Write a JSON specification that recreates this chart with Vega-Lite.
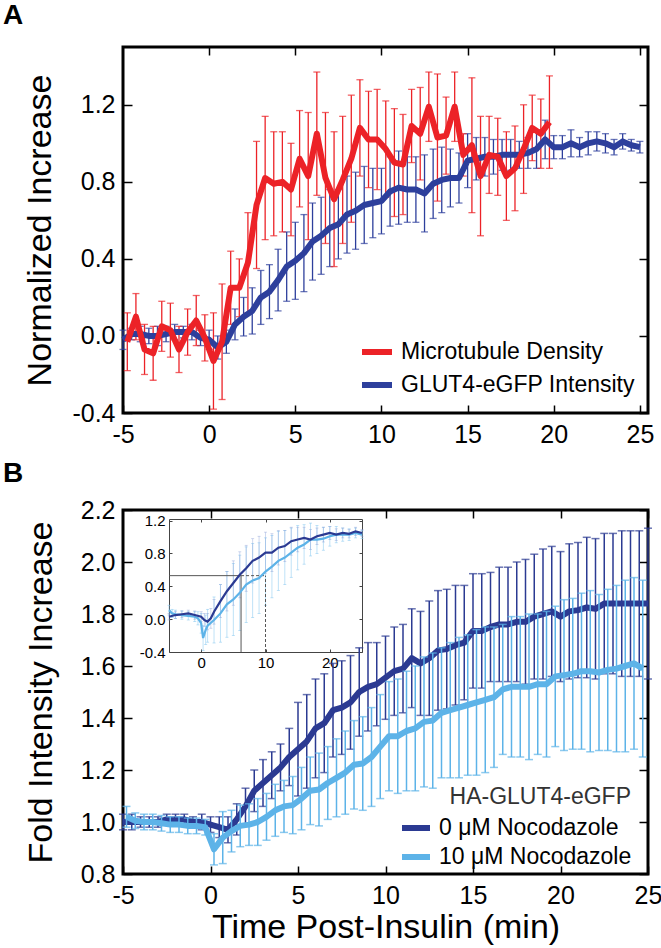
{
  "$schema": "https://vega.github.io/schema/vega-lite/v6.json",
  "background": "white",
  "padding": {"left": 1, "top": 0, "right": 0, "bottom": 0},
  "spacing": 9,
  "resolve": {"scale": {"color": "independent"}, "legend": {"color": "independent"}},
  "config": {
    "font": "Liberation Sans",
    "view": {"stroke": "black", "strokeWidth": 3},
    "axis": {"grid": false, "domain": false, "labelFont": "Liberation Sans", "labelFontSize": 25, "labelColor": "black", "tickColor": "black", "tickWidth": 1.5, "titleFont": "Liberation Sans", "titleFontSize": 34, "titleFontWeight": "normal", "titleColor": "black", "labelFlush": false, "labelOverlap": false, "labelBound": false},
    "legend": {"labelFont": "Liberation Sans", "labelFontSize": 23, "labelColor": "black", "labelLimit": 400, "titleLimit": 400, "symbolType": "stroke", "symbolStrokeWidth": 6, "symbolSize": 900, "labelOffset": 6, "titleFont": "Liberation Sans", "titleFontSize": 23, "titleFontWeight": "normal", "titleColor": "#333333"},
    "title": {"font": "Liberation Sans", "fontSize": 28, "fontWeight": "bold", "anchor": "start", "frame": "group", "color": "black", "baseline": "alphabetic"}
  },
  "datasets": {
    "a": [
      {"s":"GLUT4-eGFP Intensity","t":-5,"v":-0.02,"e":0.05},
      {"s":"GLUT4-eGFP Intensity","t":-4.5,"v":0.01,"e":0.03},
      {"s":"GLUT4-eGFP Intensity","t":-4,"v":0.01,"e":0.04},
      {"s":"GLUT4-eGFP Intensity","t":-3.5,"v":0.0,"e":0.04},
      {"s":"GLUT4-eGFP Intensity","t":-3,"v":0.0,"e":0.05},
      {"s":"GLUT4-eGFP Intensity","t":-2.5,"v":0.01,"e":0.04},
      {"s":"GLUT4-eGFP Intensity","t":-2,"v":0.02,"e":0.04},
      {"s":"GLUT4-eGFP Intensity","t":-1.5,"v":0.02,"e":0.03},
      {"s":"GLUT4-eGFP Intensity","t":-1,"v":0.02,"e":0.04},
      {"s":"GLUT4-eGFP Intensity","t":-0.5,"v":-0.01,"e":0.04},
      {"s":"GLUT4-eGFP Intensity","t":0,"v":-0.02,"e":0.05},
      {"s":"GLUT4-eGFP Intensity","t":0.5,"v":-0.06,"e":0.06},
      {"s":"GLUT4-eGFP Intensity","t":1,"v":-0.03,"e":0.06},
      {"s":"GLUT4-eGFP Intensity","t":1.5,"v":0.06,"e":0.08},
      {"s":"GLUT4-eGFP Intensity","t":2,"v":0.1,"e":0.1},
      {"s":"GLUT4-eGFP Intensity","t":2.5,"v":0.13,"e":0.12},
      {"s":"GLUT4-eGFP Intensity","t":3,"v":0.2,"e":0.14},
      {"s":"GLUT4-eGFP Intensity","t":3.5,"v":0.23,"e":0.14},
      {"s":"GLUT4-eGFP Intensity","t":4,"v":0.29,"e":0.16},
      {"s":"GLUT4-eGFP Intensity","t":4.5,"v":0.36,"e":0.18},
      {"s":"GLUT4-eGFP Intensity","t":5,"v":0.39,"e":0.2},
      {"s":"GLUT4-eGFP Intensity","t":5.5,"v":0.43,"e":0.2},
      {"s":"GLUT4-eGFP Intensity","t":6,"v":0.49,"e":0.2},
      {"s":"GLUT4-eGFP Intensity","t":6.5,"v":0.52,"e":0.2},
      {"s":"GLUT4-eGFP Intensity","t":7,"v":0.56,"e":0.2},
      {"s":"GLUT4-eGFP Intensity","t":7.5,"v":0.58,"e":0.18},
      {"s":"GLUT4-eGFP Intensity","t":8,"v":0.63,"e":0.2},
      {"s":"GLUT4-eGFP Intensity","t":8.5,"v":0.65,"e":0.2},
      {"s":"GLUT4-eGFP Intensity","t":9,"v":0.68,"e":0.2},
      {"s":"GLUT4-eGFP Intensity","t":9.5,"v":0.69,"e":0.18},
      {"s":"GLUT4-eGFP Intensity","t":10,"v":0.7,"e":0.17},
      {"s":"GLUT4-eGFP Intensity","t":10.5,"v":0.75,"e":0.18},
      {"s":"GLUT4-eGFP Intensity","t":11,"v":0.77,"e":0.19},
      {"s":"GLUT4-eGFP Intensity","t":11.5,"v":0.76,"e":0.17},
      {"s":"GLUT4-eGFP Intensity","t":12,"v":0.76,"e":0.17},
      {"s":"GLUT4-eGFP Intensity","t":12.5,"v":0.74,"e":0.2},
      {"s":"GLUT4-eGFP Intensity","t":13,"v":0.79,"e":0.18},
      {"s":"GLUT4-eGFP Intensity","t":13.5,"v":0.81,"e":0.17},
      {"s":"GLUT4-eGFP Intensity","t":14,"v":0.82,"e":0.15},
      {"s":"GLUT4-eGFP Intensity","t":14.5,"v":0.82,"e":0.13},
      {"s":"GLUT4-eGFP Intensity","t":15,"v":0.91,"e":0.14},
      {"s":"GLUT4-eGFP Intensity","t":15.5,"v":0.92,"e":0.11},
      {"s":"GLUT4-eGFP Intensity","t":16,"v":0.93,"e":0.1},
      {"s":"GLUT4-eGFP Intensity","t":16.5,"v":0.93,"e":0.09},
      {"s":"GLUT4-eGFP Intensity","t":17,"v":0.94,"e":0.08},
      {"s":"GLUT4-eGFP Intensity","t":17.5,"v":0.94,"e":0.08},
      {"s":"GLUT4-eGFP Intensity","t":18,"v":0.94,"e":0.07},
      {"s":"GLUT4-eGFP Intensity","t":18.5,"v":0.95,"e":0.08},
      {"s":"GLUT4-eGFP Intensity","t":19,"v":0.97,"e":0.1},
      {"s":"GLUT4-eGFP Intensity","t":19.5,"v":1.02,"e":0.1},
      {"s":"GLUT4-eGFP Intensity","t":20,"v":0.98,"e":0.06},
      {"s":"GLUT4-eGFP Intensity","t":20.5,"v":0.98,"e":0.06},
      {"s":"GLUT4-eGFP Intensity","t":21,"v":1.0,"e":0.07},
      {"s":"GLUT4-eGFP Intensity","t":21.5,"v":0.98,"e":0.05},
      {"s":"GLUT4-eGFP Intensity","t":22,"v":1.0,"e":0.06},
      {"s":"GLUT4-eGFP Intensity","t":22.5,"v":1.01,"e":0.05},
      {"s":"GLUT4-eGFP Intensity","t":23,"v":1.0,"e":0.05},
      {"s":"GLUT4-eGFP Intensity","t":23.5,"v":0.98,"e":0.04},
      {"s":"GLUT4-eGFP Intensity","t":24,"v":1.01,"e":0.04},
      {"s":"GLUT4-eGFP Intensity","t":24.5,"v":0.99,"e":0.03},
      {"s":"GLUT4-eGFP Intensity","t":25,"v":0.98,"e":0.03},
      {"s":"Microtubule Density","t":-4.75,"v":-0.03,"e":0.15},
      {"s":"Microtubule Density","t":-4.25,"v":0.1,"e":0.12},
      {"s":"Microtubule Density","t":-3.75,"v":-0.07,"e":0.13},
      {"s":"Microtubule Density","t":-3.25,"v":-0.09,"e":0.14},
      {"s":"Microtubule Density","t":-2.75,"v":0.05,"e":0.13},
      {"s":"Microtubule Density","t":-2.25,"v":0.03,"e":0.14},
      {"s":"Microtubule Density","t":-1.75,"v":-0.07,"e":0.12},
      {"s":"Microtubule Density","t":-1.25,"v":0.02,"e":0.12},
      {"s":"Microtubule Density","t":-0.75,"v":0.08,"e":0.13},
      {"s":"Microtubule Density","t":-0.25,"v":-0.01,"e":0.12},
      {"s":"Microtubule Density","t":0.25,"v":-0.13,"e":0.25},
      {"s":"Microtubule Density","t":0.75,"v":-0.03,"e":0.3},
      {"s":"Microtubule Density","t":1.25,"v":0.25,"e":0.19},
      {"s":"Microtubule Density","t":1.75,"v":0.25,"e":0.15},
      {"s":"Microtubule Density","t":2.25,"v":0.38,"e":0.26},
      {"s":"Microtubule Density","t":2.75,"v":0.68,"e":0.33},
      {"s":"Microtubule Density","t":3.25,"v":0.82,"e":0.32},
      {"s":"Microtubule Density","t":3.75,"v":0.79,"e":0.27},
      {"s":"Microtubule Density","t":4.25,"v":0.8,"e":0.26},
      {"s":"Microtubule Density","t":4.75,"v":0.76,"e":0.24},
      {"s":"Microtubule Density","t":5.25,"v":0.92,"e":0.25},
      {"s":"Microtubule Density","t":5.75,"v":0.83,"e":0.33},
      {"s":"Microtubule Density","t":6.25,"v":1.05,"e":0.32},
      {"s":"Microtubule Density","t":6.75,"v":0.82,"e":0.34},
      {"s":"Microtubule Density","t":7.25,"v":0.71,"e":0.35},
      {"s":"Microtubule Density","t":7.75,"v":0.81,"e":0.33},
      {"s":"Microtubule Density","t":8.25,"v":0.92,"e":0.33},
      {"s":"Microtubule Density","t":8.75,"v":1.08,"e":0.25},
      {"s":"Microtubule Density","t":9.25,"v":1.02,"e":0.25},
      {"s":"Microtubule Density","t":9.75,"v":1.02,"e":0.26},
      {"s":"Microtubule Density","t":10.25,"v":0.97,"e":0.25},
      {"s":"Microtubule Density","t":10.75,"v":0.9,"e":0.28},
      {"s":"Microtubule Density","t":11.25,"v":0.89,"e":0.26},
      {"s":"Microtubule Density","t":11.75,"v":1.09,"e":0.19},
      {"s":"Microtubule Density","t":12.25,"v":1.05,"e":0.24},
      {"s":"Microtubule Density","t":12.75,"v":1.19,"e":0.18},
      {"s":"Microtubule Density","t":13.25,"v":1.03,"e":0.33},
      {"s":"Microtubule Density","t":13.75,"v":1.04,"e":0.2},
      {"s":"Microtubule Density","t":14.25,"v":1.19,"e":0.18},
      {"s":"Microtubule Density","t":14.75,"v":0.94,"e":0.11},
      {"s":"Microtubule Density","t":15.25,"v":0.99,"e":0.35},
      {"s":"Microtubule Density","t":15.75,"v":0.83,"e":0.31},
      {"s":"Microtubule Density","t":16.25,"v":0.94,"e":0.2},
      {"s":"Microtubule Density","t":16.75,"v":0.93,"e":0.2},
      {"s":"Microtubule Density","t":17.25,"v":0.83,"e":0.23},
      {"s":"Microtubule Density","t":17.75,"v":0.87,"e":0.22},
      {"s":"Microtubule Density","t":18.25,"v":0.97,"e":0.23},
      {"s":"Microtubule Density","t":18.75,"v":1.08,"e":0.17},
      {"s":"Microtubule Density","t":19.25,"v":1.05,"e":0.18},
      {"s":"Microtubule Density","t":19.75,"v":1.11,"e":0.24}
    ],
    "b": [
      {"s":"0 μM Nocodazole","t":-5,"v":1.0,"e":0.03},
      {"s":"0 μM Nocodazole","t":-4.5,"v":1.0,"e":0.03},
      {"s":"0 μM Nocodazole","t":-4,"v":1.0,"e":0.02},
      {"s":"0 μM Nocodazole","t":-3.5,"v":1.0,"e":0.02},
      {"s":"0 μM Nocodazole","t":-3,"v":1.0,"e":0.02},
      {"s":"0 μM Nocodazole","t":-2.5,"v":1.01,"e":0.02},
      {"s":"0 μM Nocodazole","t":-2,"v":1.01,"e":0.02},
      {"s":"0 μM Nocodazole","t":-1.5,"v":1.01,"e":0.02},
      {"s":"0 μM Nocodazole","t":-1,"v":1.0,"e":0.02},
      {"s":"0 μM Nocodazole","t":-0.5,"v":1.0,"e":0.03},
      {"s":"0 μM Nocodazole","t":0,"v":0.99,"e":0.03},
      {"s":"0 μM Nocodazole","t":0.5,"v":0.98,"e":0.04},
      {"s":"0 μM Nocodazole","t":1,"v":0.97,"e":0.05},
      {"s":"0 μM Nocodazole","t":1.5,"v":1.01,"e":0.06},
      {"s":"0 μM Nocodazole","t":2,"v":1.06,"e":0.07},
      {"s":"0 μM Nocodazole","t":2.5,"v":1.12,"e":0.08},
      {"s":"0 μM Nocodazole","t":3,"v":1.15,"e":0.09},
      {"s":"0 μM Nocodazole","t":3.5,"v":1.18,"e":0.09},
      {"s":"0 μM Nocodazole","t":4,"v":1.21,"e":0.09},
      {"s":"0 μM Nocodazole","t":4.5,"v":1.25,"e":0.11},
      {"s":"0 μM Nocodazole","t":5,"v":1.28,"e":0.18},
      {"s":"0 μM Nocodazole","t":5.5,"v":1.31,"e":0.18},
      {"s":"0 μM Nocodazole","t":6,"v":1.36,"e":0.19},
      {"s":"0 μM Nocodazole","t":6.5,"v":1.38,"e":0.19},
      {"s":"0 μM Nocodazole","t":7,"v":1.43,"e":0.18},
      {"s":"0 μM Nocodazole","t":7.5,"v":1.44,"e":0.18},
      {"s":"0 μM Nocodazole","t":8,"v":1.46,"e":0.18},
      {"s":"0 μM Nocodazole","t":8.5,"v":1.5,"e":0.17},
      {"s":"0 μM Nocodazole","t":9,"v":1.52,"e":0.17},
      {"s":"0 μM Nocodazole","t":9.5,"v":1.53,"e":0.16},
      {"s":"0 μM Nocodazole","t":10,"v":1.555,"e":0.16},
      {"s":"0 μM Nocodazole","t":10.5,"v":1.58,"e":0.17},
      {"s":"0 μM Nocodazole","t":11,"v":1.59,"e":0.17},
      {"s":"0 μM Nocodazole","t":11.5,"v":1.63,"e":0.19},
      {"s":"0 μM Nocodazole","t":12,"v":1.61,"e":0.2},
      {"s":"0 μM Nocodazole","t":12.5,"v":1.63,"e":0.22},
      {"s":"0 μM Nocodazole","t":13,"v":1.66,"e":0.23},
      {"s":"0 μM Nocodazole","t":13.5,"v":1.665,"e":0.23},
      {"s":"0 μM Nocodazole","t":14,"v":1.68,"e":0.23},
      {"s":"0 μM Nocodazole","t":14.5,"v":1.69,"e":0.22},
      {"s":"0 μM Nocodazole","t":15,"v":1.735,"e":0.22},
      {"s":"0 μM Nocodazole","t":15.5,"v":1.735,"e":0.22},
      {"s":"0 μM Nocodazole","t":16,"v":1.75,"e":0.21},
      {"s":"0 μM Nocodazole","t":16.5,"v":1.76,"e":0.22},
      {"s":"0 μM Nocodazole","t":17,"v":1.76,"e":0.22},
      {"s":"0 μM Nocodazole","t":17.5,"v":1.77,"e":0.23},
      {"s":"0 μM Nocodazole","t":18,"v":1.77,"e":0.24},
      {"s":"0 μM Nocodazole","t":18.5,"v":1.79,"e":0.24},
      {"s":"0 μM Nocodazole","t":19,"v":1.8,"e":0.25},
      {"s":"0 μM Nocodazole","t":19.5,"v":1.81,"e":0.25},
      {"s":"0 μM Nocodazole","t":20,"v":1.79,"e":0.25},
      {"s":"0 μM Nocodazole","t":20.5,"v":1.81,"e":0.26},
      {"s":"0 μM Nocodazole","t":21,"v":1.815,"e":0.26},
      {"s":"0 μM Nocodazole","t":21.5,"v":1.825,"e":0.27},
      {"s":"0 μM Nocodazole","t":22,"v":1.82,"e":0.27},
      {"s":"0 μM Nocodazole","t":22.5,"v":1.84,"e":0.27},
      {"s":"0 μM Nocodazole","t":23,"v":1.84,"e":0.27},
      {"s":"0 μM Nocodazole","t":23.5,"v":1.84,"e":0.28},
      {"s":"0 μM Nocodazole","t":24,"v":1.84,"e":0.28},
      {"s":"0 μM Nocodazole","t":24.5,"v":1.84,"e":0.28},
      {"s":"0 μM Nocodazole","t":25,"v":1.84,"e":0.29},
      {"s":"10 μM Nocodazole","t":-4.8,"v":1.02,"e":0.04},
      {"s":"10 μM Nocodazole","t":-4.3,"v":1.005,"e":0.03},
      {"s":"10 μM Nocodazole","t":-3.8,"v":1.0,"e":0.03},
      {"s":"10 μM Nocodazole","t":-3.3,"v":1.0,"e":0.03},
      {"s":"10 μM Nocodazole","t":-2.8,"v":0.995,"e":0.03},
      {"s":"10 μM Nocodazole","t":-2.3,"v":0.99,"e":0.03},
      {"s":"10 μM Nocodazole","t":-1.8,"v":0.99,"e":0.03},
      {"s":"10 μM Nocodazole","t":-1.3,"v":0.985,"e":0.03},
      {"s":"10 μM Nocodazole","t":-0.8,"v":0.985,"e":0.03},
      {"s":"10 μM Nocodazole","t":-0.3,"v":0.98,"e":0.03},
      {"s":"10 μM Nocodazole","t":0.2,"v":0.895,"e":0.06},
      {"s":"10 μM Nocodazole","t":0.7,"v":0.94,"e":0.1},
      {"s":"10 μM Nocodazole","t":1.2,"v":0.965,"e":0.08},
      {"s":"10 μM Nocodazole","t":1.7,"v":0.985,"e":0.08},
      {"s":"10 μM Nocodazole","t":2.2,"v":0.99,"e":0.08},
      {"s":"10 μM Nocodazole","t":2.7,"v":1.0,"e":0.09},
      {"s":"10 μM Nocodazole","t":3.2,"v":1.02,"e":0.09},
      {"s":"10 μM Nocodazole","t":3.7,"v":1.045,"e":0.1},
      {"s":"10 μM Nocodazole","t":4.2,"v":1.06,"e":0.1},
      {"s":"10 μM Nocodazole","t":4.7,"v":1.065,"e":0.11},
      {"s":"10 μM Nocodazole","t":5.2,"v":1.09,"e":0.12},
      {"s":"10 μM Nocodazole","t":5.7,"v":1.12,"e":0.13},
      {"s":"10 μM Nocodazole","t":6.2,"v":1.125,"e":0.14},
      {"s":"10 μM Nocodazole","t":6.7,"v":1.15,"e":0.14},
      {"s":"10 μM Nocodazole","t":7.2,"v":1.17,"e":0.15},
      {"s":"10 μM Nocodazole","t":7.7,"v":1.19,"e":0.16},
      {"s":"10 μM Nocodazole","t":8.2,"v":1.22,"e":0.17},
      {"s":"10 μM Nocodazole","t":8.7,"v":1.225,"e":0.18},
      {"s":"10 μM Nocodazole","t":9.2,"v":1.25,"e":0.19},
      {"s":"10 μM Nocodazole","t":9.7,"v":1.29,"e":0.2},
      {"s":"10 μM Nocodazole","t":10.2,"v":1.33,"e":0.21},
      {"s":"10 μM Nocodazole","t":10.7,"v":1.33,"e":0.22},
      {"s":"10 μM Nocodazole","t":11.2,"v":1.35,"e":0.23},
      {"s":"10 μM Nocodazole","t":11.7,"v":1.36,"e":0.24},
      {"s":"10 μM Nocodazole","t":12.2,"v":1.385,"e":0.25},
      {"s":"10 μM Nocodazole","t":12.7,"v":1.39,"e":0.26},
      {"s":"10 μM Nocodazole","t":13.2,"v":1.42,"e":0.25},
      {"s":"10 μM Nocodazole","t":13.7,"v":1.43,"e":0.26},
      {"s":"10 μM Nocodazole","t":14.2,"v":1.44,"e":0.27},
      {"s":"10 μM Nocodazole","t":14.7,"v":1.45,"e":0.27},
      {"s":"10 μM Nocodazole","t":15.2,"v":1.46,"e":0.28},
      {"s":"10 μM Nocodazole","t":15.7,"v":1.47,"e":0.28},
      {"s":"10 μM Nocodazole","t":16.2,"v":1.48,"e":0.27},
      {"s":"10 μM Nocodazole","t":16.7,"v":1.51,"e":0.25},
      {"s":"10 μM Nocodazole","t":17.2,"v":1.52,"e":0.27},
      {"s":"10 μM Nocodazole","t":17.7,"v":1.52,"e":0.27},
      {"s":"10 μM Nocodazole","t":18.2,"v":1.52,"e":0.28},
      {"s":"10 μM Nocodazole","t":18.7,"v":1.53,"e":0.27},
      {"s":"10 μM Nocodazole","t":19.2,"v":1.53,"e":0.28},
      {"s":"10 μM Nocodazole","t":19.7,"v":1.56,"e":0.27},
      {"s":"10 μM Nocodazole","t":20.2,"v":1.565,"e":0.29},
      {"s":"10 μM Nocodazole","t":20.7,"v":1.57,"e":0.29},
      {"s":"10 μM Nocodazole","t":21.2,"v":1.58,"e":0.3},
      {"s":"10 μM Nocodazole","t":21.7,"v":1.58,"e":0.31},
      {"s":"10 μM Nocodazole","t":22.2,"v":1.575,"e":0.3},
      {"s":"10 μM Nocodazole","t":22.7,"v":1.585,"e":0.31},
      {"s":"10 μM Nocodazole","t":23.2,"v":1.59,"e":0.32},
      {"s":"10 μM Nocodazole","t":23.7,"v":1.6,"e":0.33},
      {"s":"10 μM Nocodazole","t":24.2,"v":1.61,"e":0.33},
      {"s":"10 μM Nocodazole","t":24.7,"v":1.59,"e":0.34}
    ],
    "ins0": [
      {"t":-5,"v":0.03,"e":0.04},{"t":-4,"v":0.05,"e":0.04},{"t":-3,"v":0.06,"e":0.04},{"t":-2,"v":0.07,"e":0.04},{"t":-1,"v":0.05,"e":0.05},
      {"t":0,"v":0.03,"e":0.06},{"t":0.5,"v":-0.01,"e":0.08},{"t":1,"v":-0.03,"e":0.1},{"t":1.5,"v":0.01,"e":0.12},{"t":2,"v":0.09,"e":0.15},
      {"t":3,"v":0.22,"e":0.2},{"t":4,"v":0.34,"e":0.24},{"t":5,"v":0.44,"e":0.27},{"t":6,"v":0.54,"e":0.28},{"t":7,"v":0.62,"e":0.28},
      {"t":8,"v":0.71,"e":0.27},{"t":9,"v":0.75,"e":0.26},{"t":10,"v":0.81,"e":0.25},{"t":11,"v":0.81,"e":0.23},{"t":12,"v":0.87,"e":0.21},
      {"t":13,"v":0.89,"e":0.19},{"t":14,"v":0.95,"e":0.17},{"t":15,"v":0.97,"e":0.15},{"t":16,"v":0.99,"e":0.13},{"t":17,"v":0.97,"e":0.12},
      {"t":18,"v":1.01,"e":0.1},{"t":19,"v":1.03,"e":0.09},{"t":20,"v":1.05,"e":0.08},{"t":21,"v":1.03,"e":0.07},{"t":22,"v":1.05,"e":0.06},
      {"t":23,"v":1.04,"e":0.05},{"t":24,"v":1.07,"e":0.05},{"t":25,"v":1.05,"e":0.04}
    ],
    "ins10": [
      {"t":-5,"v":0.11,"e":0.06},{"t":-4.5,"v":0.07,"e":0.05},{"t":-4,"v":0.06,"e":0.05},{"t":-3,"v":0.05,"e":0.05},{"t":-2,"v":0.04,"e":0.05},
      {"t":-1,"v":0.03,"e":0.06},{"t":-0.5,"v":0.01,"e":0.08},{"t":0,"v":-0.05,"e":0.12},{"t":0.3,"v":-0.23,"e":0.15},{"t":0.7,"v":-0.13,"e":0.18},
      {"t":1,"v":-0.08,"e":0.2},{"t":2,"v":-0.01,"e":0.28},{"t":3,"v":0.07,"e":0.35},{"t":4,"v":0.18,"e":0.4},{"t":5,"v":0.24,"e":0.44},
      {"t":6,"v":0.32,"e":0.46},{"t":7,"v":0.42,"e":0.46},{"t":8,"v":0.47,"e":0.45},{"t":9,"v":0.5,"e":0.43},{"t":10,"v":0.58,"e":0.41},
      {"t":11,"v":0.64,"e":0.38},{"t":12,"v":0.71,"e":0.36},{"t":13,"v":0.75,"e":0.33},{"t":14,"v":0.81,"e":0.3},{"t":15,"v":0.87,"e":0.27},
      {"t":16,"v":0.91,"e":0.24},{"t":17,"v":0.97,"e":0.2},{"t":18,"v":0.97,"e":0.17},{"t":19,"v":0.98,"e":0.14},{"t":20,"v":1.01,"e":0.12},
      {"t":21,"v":1.03,"e":0.1},{"t":22,"v":1.03,"e":0.08},{"t":23,"v":1.03,"e":0.07},{"t":24,"v":1.05,"e":0.06},{"t":25,"v":1.03,"e":0.05}
    ],
    "refSolid": [
      {"x":-5,"x2":6.2,"y":0.53,"y2":0.53},
      {"x":6.2,"x2":6.2,"y":-0.4,"y2":0.53}
    ],
    "refDash": [
      {"x":6.2,"x2":10,"y":0.53,"y2":0.53},
      {"x":10,"x2":10,"y":-0.4,"y2":0.53}
    ]
  },
  "vconcat": [
    {
      "width": 525,
      "height": 366,
      "title": {"text": "A", "dx": -120, "offset": 16},
      "resolve": {"axis": {"x": "independent", "y": "independent"}},
      "layer": [
        {
          "data": {"name": "a"},
          "transform": [{"filter": {"field": "s", "equal": "GLUT4-eGFP Intensity"}}],
          "mark": {"type": "errorbar", "ticks": {"size": 7, "strokeWidth": 1.3}, "thickness": 1.3, "color": "#2D3F9C"},
          "encoding": {
            "x": {"field": "t", "type": "quantitative", "scale": {"domain": [-5, 25.47], "nice": false, "zero": false}, "axis": null},
            "y": {"field": "v", "type": "quantitative", "scale": {"domain": [-0.4, 1.5], "nice": false, "zero": false}, "axis": null},
            "yError": {"field": "e"}
          }
        },
        {
          "data": {"name": "a"},
          "transform": [{"filter": {"field": "s", "equal": "Microtubule Density"}}],
          "mark": {"type": "errorbar", "ticks": {"size": 7, "strokeWidth": 1.3}, "thickness": 1.3, "color": "#EC2227"},
          "encoding": {
            "x": {"field": "t", "type": "quantitative", "axis": null},
            "y": {"field": "v", "type": "quantitative", "axis": null},
            "yError": {"field": "e"}
          }
        },
        {
          "data": {"name": "a"},
          "transform": [{"filter": {"field": "s", "equal": "GLUT4-eGFP Intensity"}}],
          "mark": {"type": "line", "strokeWidth": 6, "strokeJoin": "round", "color": "#2D3F9C"},
          "encoding": {
            "x": {"field": "t", "type": "quantitative", "axis": null},
            "y": {"field": "v", "type": "quantitative", "axis": null}
          }
        },
        {
          "data": {"name": "a"},
          "transform": [{"filter": {"field": "s", "equal": "Microtubule Density"}}],
          "mark": {"type": "line", "strokeWidth": 6, "strokeJoin": "round"},
          "encoding": {
            "x": {"field": "t", "type": "quantitative",
                  "axis": {"orient": "bottom", "values": [-5, 0, 5, 10, 15, 20, 25], "tickSize": -8, "labelPadding": 17, "title": null, "labelExpr": "replace(datum.label, '−', '-')"}},
            "y": {"field": "v", "type": "quantitative",
                  "axis": {"orient": "left", "values": [-0.4, 0, 0.4, 0.8, 1.2], "format": ".1f", "tickSize": -9, "labelPadding": 17, "title": "Normalized Increase", "titlePadding": 14, "labelExpr": "replace(datum.label, '−', '-')"}},
            "color": {"field": "s", "type": "nominal",
                      "scale": {"domain": ["Microtubule Density", "GLUT4-eGFP Intensity"], "range": ["#EC2227", "#2D3F9C"]},
                      "legend": {"orient": "none", "legendX": 236, "legendY": 287, "title": null, "rowPadding": 3}}
          }
        },
        {
          "data": {"name": "a"},
          "mark": {"type": "line", "opacity": 0},
          "encoding": {
            "x": {"field": "t", "type": "quantitative", "axis": {"orient": "top", "values": [0, 5, 10, 15, 20, 25], "labels": false, "tickSize": -8, "title": null}},
            "y": {"field": "v", "type": "quantitative", "axis": {"orient": "right", "values": [-0.4, 0, 0.4, 0.8, 1.2], "labels": false, "tickSize": -9, "title": null}},
            "detail": {"field": "s"}
          }
        }
      ]
    },
    {
      "width": 525,
      "height": 364,
      "title": {"text": "B", "dx": -120, "offset": 10},
      "resolve": {"scale": {"x": "independent", "y": "independent"}},
      "layer": [
        {
          "resolve": {"axis": {"x": "independent", "y": "independent"}},
          "layer": [
            {
              "data": {"name": "b"},
              "transform": [{"filter": {"field": "s", "equal": "0 μM Nocodazole"}}],
              "mark": {"type": "errorbar", "ticks": {"size": 8, "strokeWidth": 1.5}, "thickness": 1.5, "color": "#2B3A92"},
              "encoding": {
                "x": {"field": "t", "type": "quantitative", "scale": {"domain": [-5, 25], "nice": false, "zero": false}, "axis": null},
                "y": {"field": "v", "type": "quantitative", "scale": {"domain": [0.8, 2.2], "nice": false, "zero": false}, "axis": null},
                "yError": {"field": "e"}
              }
            },
            {
              "data": {"name": "b"},
              "transform": [{"filter": {"field": "s", "equal": "0 μM Nocodazole"}}],
              "mark": {"type": "line", "strokeWidth": 6, "strokeJoin": "round", "color": "#2B3A92"},
              "encoding": {
                "x": {"field": "t", "type": "quantitative", "axis": null},
                "y": {"field": "v", "type": "quantitative", "axis": null}
              }
            },
            {
              "data": {"name": "b"},
              "transform": [{"filter": {"field": "s", "equal": "10 μM Nocodazole"}}],
              "mark": {"type": "errorbar", "ticks": {"size": 8, "strokeWidth": 1.5}, "thickness": 1.5, "color": "#5DB3E8"},
              "encoding": {
                "x": {"field": "t", "type": "quantitative", "axis": null},
                "y": {"field": "v", "type": "quantitative", "axis": null},
                "yError": {"field": "e"}
              }
            },
            {
              "data": {"name": "b"},
              "transform": [{"filter": {"field": "s", "equal": "10 μM Nocodazole"}}],
              "mark": {"type": "line", "strokeWidth": 6, "strokeJoin": "round"},
              "encoding": {
                "x": {"field": "t", "type": "quantitative",
                      "axis": {"orient": "bottom", "values": [-5, 0, 5, 10, 15, 20, 25], "tickSize": -8, "labelPadding": 17, "title": "Time Post-Insulin (min)", "titlePadding": 2, "labelExpr": "replace(datum.label, '−', '-')"}},
                "y": {"field": "v", "type": "quantitative",
                      "axis": {"orient": "left", "values": [0.8, 1.0, 1.2, 1.4, 1.6, 1.8, 2.0, 2.2], "format": ".1f", "tickSize": -9, "labelPadding": 17, "title": "Fold Intensity Increase", "titlePadding": 22}},
                "color": {"field": "s", "type": "nominal",
                          "scale": {"domain": ["0 μM Nocodazole", "10 μM Nocodazole"], "range": ["#2B3A92", "#5DB3E8"]},
                          "legend": {"orient": "none", "legendX": 276, "legendY": 276, "title": "HA-GLUT4-eGFP", "titleAnchor": "end", "titlePadding": 2, "rowPadding": -5, "symbolSize": 784}}
              }
            },
            {
              "data": {"name": "b"},
              "mark": {"type": "line", "opacity": 0},
              "encoding": {
                "x": {"field": "t", "type": "quantitative", "axis": {"orient": "top", "values": [0, 5, 10, 15, 20, 25], "labels": false, "tickSize": -8, "title": null}},
                "y": {"field": "v", "type": "quantitative", "axis": {"orient": "right", "values": [0.8, 1.0, 1.2, 1.4, 1.6, 1.8, 2.0, 2.2], "labels": false, "tickSize": -9, "title": null}},
                "detail": {"field": "s"}
              }
            }
          ]
        },
        {
          "resolve": {"axis": {"x": "independent", "y": "independent"}},
          "layer": [
            {
              "data": {"name": "ins10"},
              "mark": {"type": "errorbar", "ticks": {"size": 3, "strokeWidth": 0.7}, "thickness": 0.7, "color": "#8CCBF0", "opacity": 0.8},
              "encoding": {
                "x": {"field": "t", "type": "quantitative", "scale": {"domain": [-5, 25], "range": [46, 239], "nice": false, "zero": false},
                      "axis": {"orient": "bottom", "offset": -222, "values": [0, 10, 20], "labelFontSize": 15, "tickSize": -3, "labelPadding": 6, "domain": true, "domainColor": "#444444", "domainWidth": 1, "tickColor": "#444444", "tickWidth": 1, "title": null}},
                "y": {"field": "v", "type": "quantitative", "scale": {"domain": [-0.4, 1.22], "range": [142, 9], "nice": false, "zero": false},
                      "axis": {"orient": "left", "offset": -46, "values": [-0.4, 0, 0.4, 0.8, 1.2], "format": ".1f", "labelExpr": "replace(datum.label, '−', '-')", "labelFontSize": 15, "tickSize": -3, "labelPadding": 7, "domain": true, "domainColor": "#444444", "domainWidth": 1, "tickColor": "#444444", "tickWidth": 1, "title": null}},
                "yError": {"field": "e"}
              }
            },
            {
              "data": {"name": "ins0"},
              "mark": {"type": "errorbar", "ticks": {"size": 3, "strokeWidth": 0.7}, "thickness": 0.7, "color": "#8CA0D8", "opacity": 0.6},
              "encoding": {
                "x": {"field": "t", "type": "quantitative", "axis": null},
                "y": {"field": "v", "type": "quantitative", "axis": null},
                "yError": {"field": "e"}
              }
            },
            {
              "data": {"name": "refSolid"},
              "mark": {"type": "rule", "color": "#555555", "strokeWidth": 1},
              "encoding": {
                "x": {"field": "x", "type": "quantitative", "axis": null},
                "x2": {"field": "x2"},
                "y": {"field": "y", "type": "quantitative", "axis": null},
                "y2": {"field": "y2"}
              }
            },
            {
              "data": {"name": "refDash"},
              "mark": {"type": "rule", "color": "#555555", "strokeWidth": 1, "strokeDash": [3, 2]},
              "encoding": {
                "x": {"field": "x", "type": "quantitative", "axis": null},
                "x2": {"field": "x2"},
                "y": {"field": "y", "type": "quantitative", "axis": null},
                "y2": {"field": "y2"}
              }
            },
            {
              "data": {"name": "ins10"},
              "mark": {"type": "line", "strokeWidth": 2.2, "color": "#5DB3E8"},
              "encoding": {
                "x": {"field": "t", "type": "quantitative", "axis": null},
                "y": {"field": "v", "type": "quantitative", "axis": null}
              }
            },
            {
              "data": {"name": "ins0"},
              "mark": {"type": "line", "strokeWidth": 2.2, "color": "#2B3A92"},
              "encoding": {
                "x": {"field": "t", "type": "quantitative",
                      "axis": {"orient": "top", "offset": -9, "labels": false, "values": [0, 10, 20], "tickSize": -3, "domain": true, "domainColor": "#444444", "domainWidth": 1, "tickColor": "#444444", "tickWidth": 1, "title": null}},
                "y": {"field": "v", "type": "quantitative",
                      "axis": {"orient": "right", "offset": -286, "labels": false, "values": [-0.4, 0, 0.4, 0.8, 1.2], "tickSize": -3, "domain": true, "domainColor": "#444444", "domainWidth": 1, "tickColor": "#444444", "tickWidth": 1, "title": null}}
              }
            }
          ]
        }
      ]
    }
  ]
}
